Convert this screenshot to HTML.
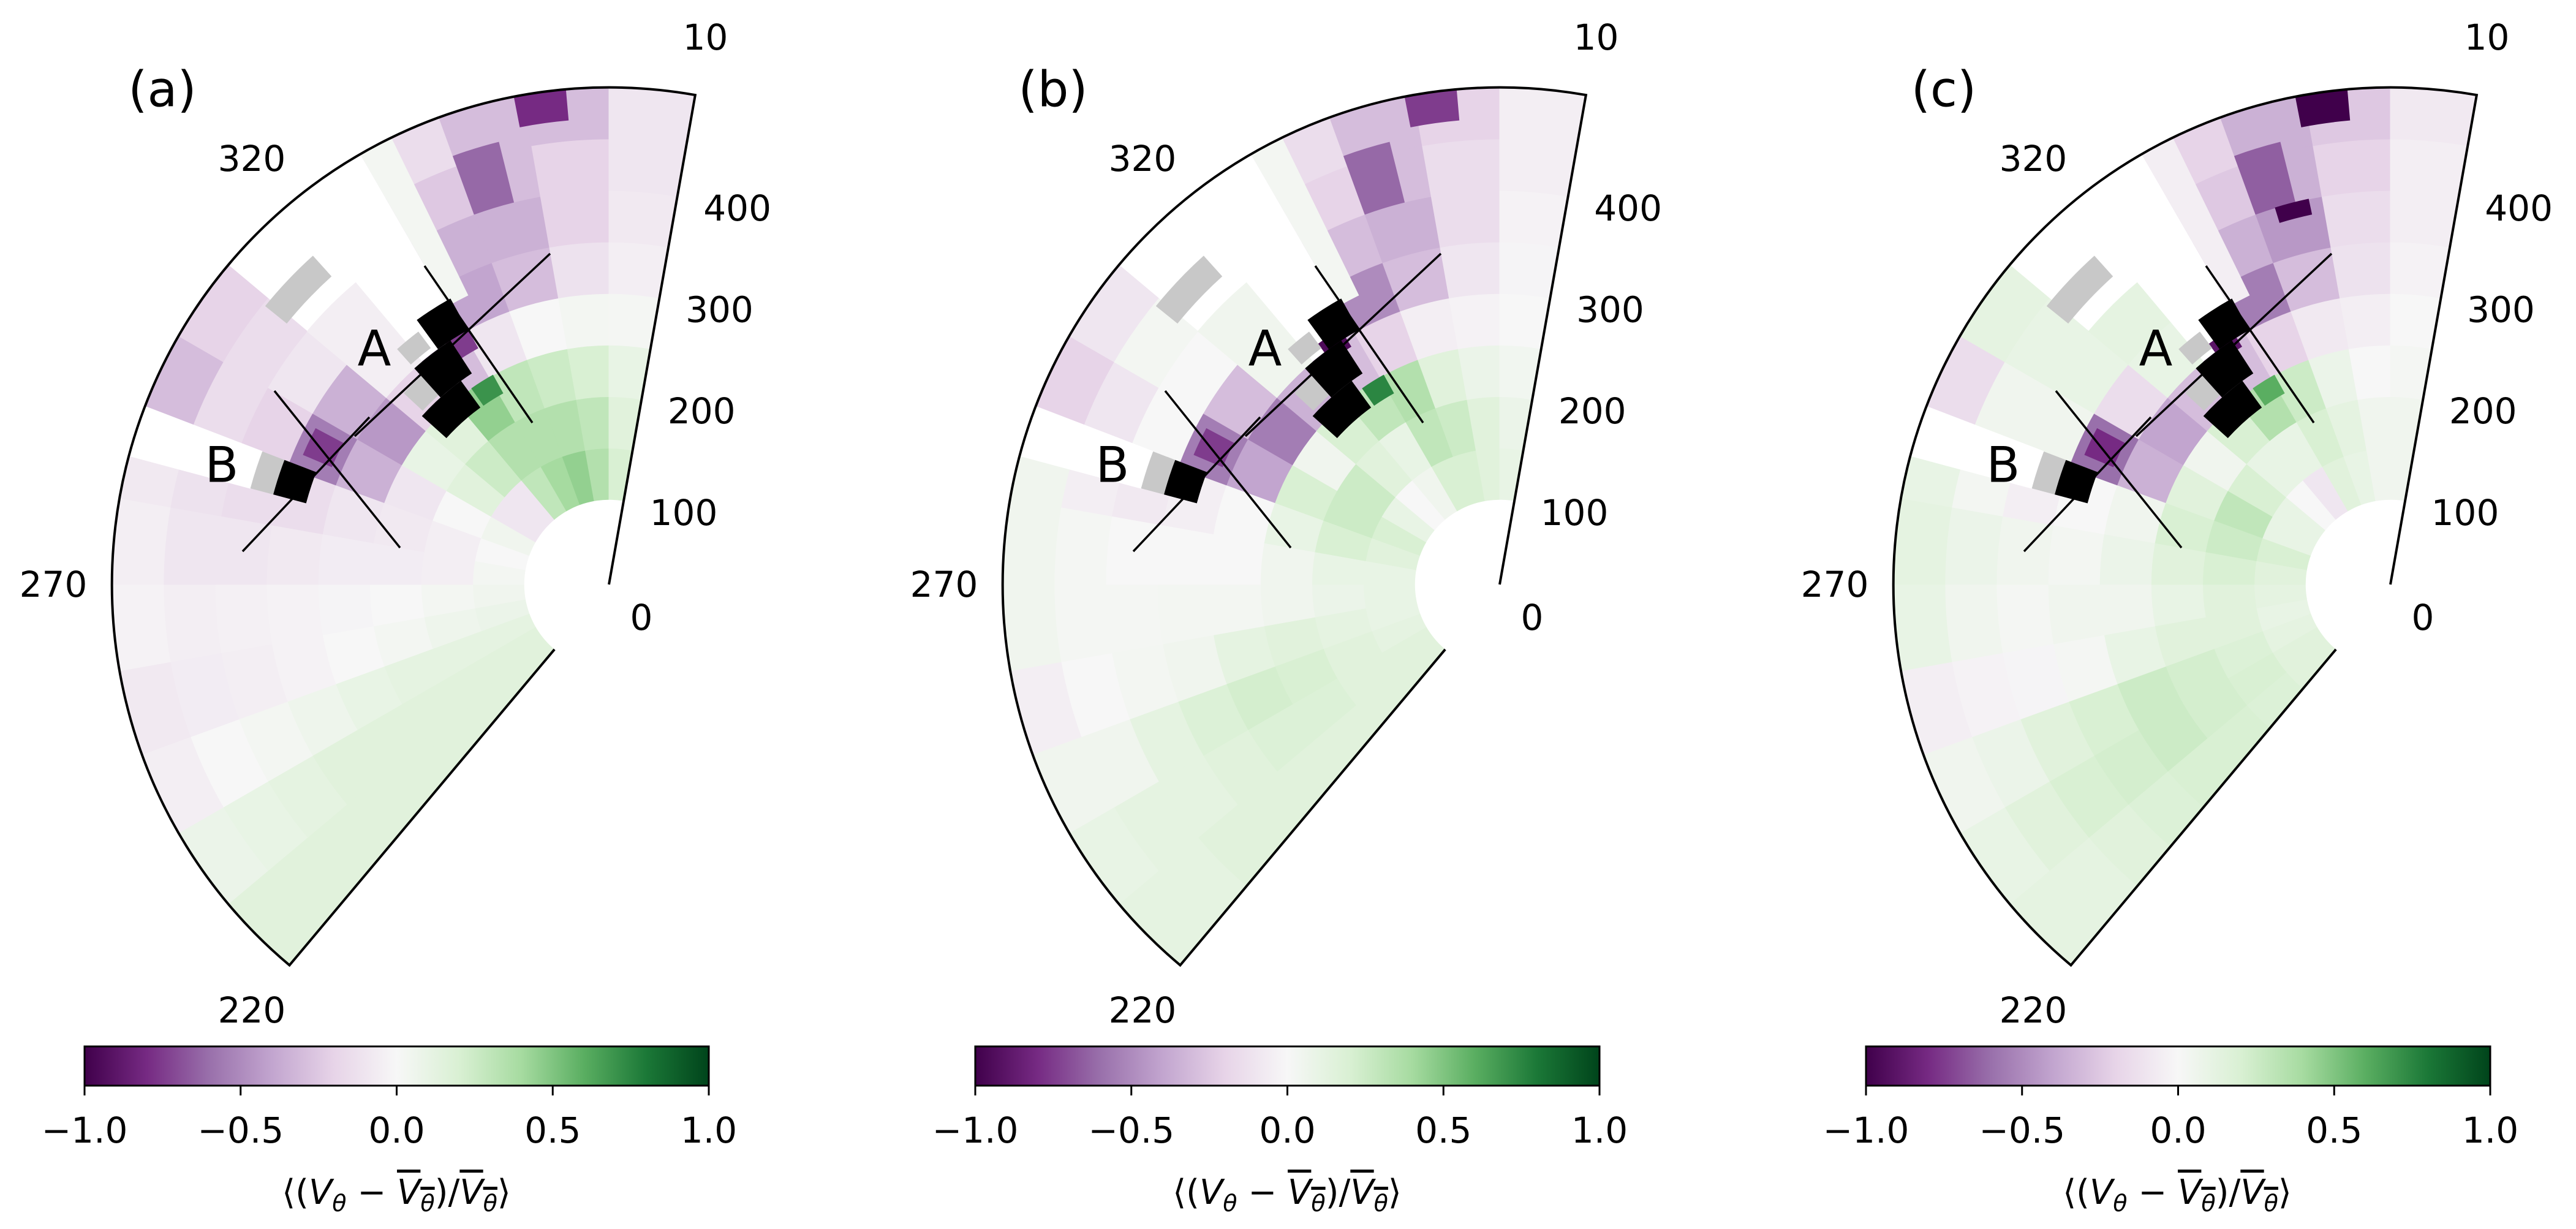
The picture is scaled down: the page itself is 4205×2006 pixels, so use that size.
<!DOCTYPE html>
<html><head><meta charset="utf-8">
<style>
html,body{margin:0;padding:0;background:#fff;}
#wrap{position:relative;width:4205px;height:2006px;overflow:hidden;font-family:"DejaVu Sans","Liberation Sans",sans-serif;}
svg{position:absolute;left:0;top:0;}
.cblabel{position:absolute;top:1912px;width:700px;text-align:center;font-size:56px;line-height:70px;color:#000;white-space:nowrap;}
.ov{text-decoration:overline;}
sub{font-size:38px;}
</style></head>
<body>
<div id="wrap">
<svg id="fig" width="4205" height="2006" viewBox="0 0 4205 2006" xmlns="http://www.w3.org/2000/svg">
<defs>
<linearGradient id="prgn" x1="0" x2="1" y1="0" y2="0">
<stop offset="0" stop-color="#40004b"/><stop offset="0.1" stop-color="#762a83"/><stop offset="0.2" stop-color="#9970ab"/><stop offset="0.3" stop-color="#c2a5cf"/><stop offset="0.4" stop-color="#e7d4e8"/><stop offset="0.5" stop-color="#f7f7f7"/><stop offset="0.6" stop-color="#d9f0d3"/><stop offset="0.7" stop-color="#a6dba0"/><stop offset="0.8" stop-color="#5aae61"/><stop offset="0.9" stop-color="#1b7837"/><stop offset="1" stop-color="#00441b"/>
</linearGradient>
</defs>
</svg>
<div class="cblabel" style="left:297px">⟨(<i>V</i><sub><i>θ</i></sub> − <span class="ov"><i>V</i><sub><i>θ</i></sub></span>)/<span class="ov"><i>V</i><sub><i>θ</i></sub></span>⟩</div>
<div class="cblabel" style="left:1751px">⟨(<i>V</i><sub><i>θ</i></sub> − <span class="ov"><i>V</i><sub><i>θ</i></sub></span>)/<span class="ov"><i>V</i><sub><i>θ</i></sub></span>⟩</div>
<div class="cblabel" style="left:3204px">⟨(<i>V</i><sub><i>θ</i></sub> − <span class="ov"><i>V</i><sub><i>θ</i></sub></span>)/<span class="ov"><i>V</i><sub><i>θ</i></sub></span>⟩</div>
</div>
<script>
// ---- data ----
const thetaEdges = [220,230,240,250,260,270,280,290,300,310,320,330,340,350,360,370];
const rEdges = [100,150,200,250,300,350,400,450,500];
const thetaTicks = [220,270,320,10];
const rTicks = [0,100,200,300,400];
const cbTicks = [-1.0,-0.5,0.0,0.5,1.0];
const cbTickLabels = ["\u22121.0","\u22120.5","0.0","0.5","1.0"];
const panelLabels = ["(a)","(b)","(c)"];

const valuesA = [
 [0.15,0.15,0.15,0.15,0.15,0.15,0.15,0.15],
 [0.15,0.15,0.15,0.15,0.15,0.12,0.1,0.08],
 [0.12,0.12,0.12,0.1,0.06,0.03,0.0,-0.05],
 [0.08,0.06,0.03,0.0,-0.03,-0.05,-0.06,-0.08],
 [0.05,0.03,0.0,-0.02,-0.03,-0.04,-0.05,-0.03],
 [0.03,-0.05,-0.06,-0.06,-0.08,-0.1,-0.1,-0.05],
 [0.0,-0.05,-0.08,-0.1,-0.15,-0.15,-0.12,-0.08],
 [0.05,0.0,-0.1,-0.35,-0.55,-0.2,-0.15,-0.3],
 [-0.1,0.15,0.1,-0.45,-0.35,-0.1,-0.15,-0.2],
 [-0.1,0.25,0.15,-0.2,-0.05,-0.05,null,null],
 [0.3,0.35,0.45,-0.3,null,null,null,null],
 [0.4,0.35,0.3,-0.1,-0.4,-0.35,-0.25,-0.15],
 [0.45,0.35,0.25,0.0,-0.3,-0.35,-0.3,-0.3],
 [0.35,0.3,0.2,0.03,-0.12,-0.2,-0.2,-0.3],
 [0.2,0.15,0.1,0.02,-0.05,-0.08,-0.1,-0.1]
];
const valuesB = [
 [0.15,0.15,0.15,0.15,0.15,0.15,0.12,0.12],
 [0.15,0.15,0.18,0.18,0.15,0.12,0.12,0.1],
 [0.12,0.15,0.2,0.22,0.18,0.12,0.05,0.05],
 [0.1,0.12,0.15,0.12,0.05,0.03,0.0,-0.05],
 [0.1,0.08,0.05,0.03,0.03,0.02,0.02,0.05],
 [0.1,0.1,0.05,0.0,0.0,0.0,0.02,0.05],
 [0.15,0.2,0.1,0.0,-0.05,-0.08,-0.05,0.05],
 [0.2,0.25,0.2,-0.4,-0.55,0.0,-0.1,-0.2],
 [0.1,0.25,0.05,-0.55,-0.3,0.0,0.03,-0.1],
 [0.0,0.15,0.2,-0.35,0.05,0.05,null,null],
 [0.05,0.1,0.3,-0.3,null,null,null,null],
 [0.2,0.3,0.35,-0.2,-0.5,-0.3,-0.2,-0.15],
 [0.2,0.25,0.15,-0.05,-0.3,-0.35,-0.3,-0.3],
 [0.15,0.15,0.08,-0.03,-0.1,-0.15,-0.15,-0.2],
 [0.1,0.08,0.04,0.0,-0.02,-0.03,-0.05,-0.05]
];
const valuesC = [
 [0.15,0.18,0.2,0.2,0.18,0.15,0.12,0.12],
 [0.15,0.2,0.22,0.25,0.22,0.2,0.15,0.1],
 [0.12,0.18,0.22,0.25,0.2,0.15,0.08,0.05],
 [0.1,0.15,0.15,0.1,0.02,-0.02,-0.03,-0.05],
 [0.12,0.15,0.1,0.05,0.05,0.02,0.05,0.1],
 [0.15,0.2,0.15,0.08,0.03,0.05,0.08,0.12],
 [0.2,0.25,0.2,0.05,0.0,-0.05,0.03,0.1],
 [0.1,0.3,0.15,-0.35,-0.6,0.05,0.05,-0.15],
 [0.1,0.2,0.05,-0.4,-0.15,0.1,0.1,0.12],
 [0.0,0.1,0.2,-0.3,0.1,0.12,null,null],
 [-0.1,0.1,0.35,-0.3,null,null,null,null],
 [0.15,0.2,0.25,-0.2,-0.55,-0.35,-0.25,-0.2],
 [0.1,0.12,0.08,-0.08,-0.3,-0.45,-0.35,-0.35],
 [0.05,0.05,0.0,-0.05,-0.12,-0.15,-0.2,-0.25],
 [0.05,0.05,0.02,0.0,-0.03,-0.05,-0.05,-0.08]
];
// finer cells: [az0, az1, r0, r1, value(null = no data)]
const cellsA = [[285,291,378,500,null],[330,334,330,500,0.03],[340,346,400,460,-0.62],[349,355,470,500,-0.8],[325,331,230,250,0.7],[293,298,310,340,-0.75],[326,331,280,300,-0.75]];
const cellsB = [[285,291,378,500,null],[330,334,330,500,0.03],[340,346,400,460,-0.62],[349,355,470,500,-0.75],[323,328,290,310,-0.95],[325,331,230,250,0.75],[293,298,310,340,-0.75]];
const cellsC = [[285,291,378,500,null],[330,334,330,500,-0.05],[340,346,400,460,-0.65],[343,348,385,400,-1.0],[349,355,470,500,-1.0],[323,328,290,310,-0.9],[325,331,230,250,0.6],[293,298,310,340,-0.8]];
// masked cells shared by all panels: [az0, az1, r0, r1]
const blackCells = [[324,331,300,335],[318,327,262,300],[312,324,230,262],[285,291,322,355]];
const grayCells = [[309,318,420,447],[318,323,305,325],[313,318,265,290],[285,291,355,378]];

// ---- geometry ----
const centersX = [994,2448,3902];
const CY = 954;
const cbLeft = [138,1592,3046], CBW = 1019, CBY = 1708, CBH = 64;
function rpx(r){ return 1.6825*r - 30; }
function pt(cx, az, R){ const m=(90-az)*Math.PI/180; return [cx+R*Math.cos(m), CY-R*Math.sin(m)]; }
const STOPS=["#40004b","#762a83","#9970ab","#c2a5cf","#e7d4e8","#f7f7f7","#d9f0d3","#a6dba0","#5aae61","#1b7837","#00441b"];
function hex(h){return [parseInt(h.substr(1,2),16),parseInt(h.substr(3,2),16),parseInt(h.substr(5,2),16)];}
function cmap(v){
  v=Math.max(-1,Math.min(1,v)); const t=(v+1)/2*10; const i=Math.min(9,Math.floor(t)); const f=t-i;
  const a=hex(STOPS[i]), b=hex(STOPS[i+1]);
  return "rgb("+a.map((x,k)=>Math.round(x+(b[k]-x)*f)).join(",")+")";
}
function sector(cx,az0,az1,r0,r1){
  const R0=rpx(r0), R1=rpx(r1);
  const p1=pt(cx,az0,R0), p2=pt(cx,az0,R1), p3=pt(cx,az1,R1), p4=pt(cx,az1,R0);
  return "M"+p1+"L"+p2+"A"+R1+","+R1+" 0 0 1 "+p3+"L"+p4+"A"+R0+","+R0+" 0 0 0 "+p1+"Z";
}
const svg=document.getElementById('fig');
const NS="http://www.w3.org/2000/svg";
function mk(tag, attrs, parent){ const e=document.createElementNS(NS,tag); for(const k in attrs) e.setAttribute(k,attrs[k]); (parent||svg).appendChild(e); return e; }

const panelValues=[valuesA,valuesB,valuesC];
const panelCells=[cellsA,cellsB,cellsC];
const annotLines=[[-598,-54,-391,-273],[-415,-242,-96,-540],[-301,-520,-125,-264],[-546,-316,-341,-60]];

for(let p=0;p<3;p++){
  const cx=centersX[p];
  const g=mk('g',{});
  
  
  const vals=panelValues[p];
  for(let i=0;i<thetaEdges.length-1;i++){
    for(let j=0;j<rEdges.length-1;j++){
      const v=vals[i][j]; if(v===null) continue;
      const c=mk('path',{d:sector(cx,thetaEdges[i],thetaEdges[i+1],rEdges[j],rEdges[j+1]),fill:cmap(v),stroke:cmap(v),'stroke-width':1},g);
      
      
    }
  }
  for(const c of panelCells[p]){
    const col = c[4]===null ? "#ffffff" : cmap(c[4]);
    const e=mk('path',{d:sector(cx,c[0],c[1],c[2],c[3]),fill:col,stroke:col,'stroke-width':1},g);
    
    
  }
  for(const c of grayCells){
    const e=mk('path',{d:sector(cx,c[0],c[1],c[2],c[3]),fill:"#c8c8c8"},g);
    
    
  }
  for(const c of blackCells){
    const e=mk('path',{d:sector(cx,c[0],c[1],c[2],c[3]),fill:"#000"},g);
    
    
  }
  const h=mk('path',{d:sector(cx,219,371,10,rEdges[0]),fill:"#fff"},g);
  
  
  const Ro=rpx(500), Ri=rpx(100);
  const o1=pt(cx,220,Ri), o2=pt(cx,220,Ro), o3=pt(cx,370,Ro);
  const ol=mk('path',{d:"M"+o1+"L"+o2+"A"+Ro+","+Ro+" 0 0 1 "+o3+"L"+cx+","+CY,fill:"none",stroke:"#000","stroke-width":4},g);
  
  
  for(const l of annotLines){
    const e=mk('line',{x1:cx+l[0],y1:CY+l[1],x2:cx+l[2],y2:CY+l[3],stroke:"#000","stroke-width":3.5},g);
    
    
  }
  const tA=mk('text',{x:cx-383,y:CY-385,'font-size':80,'text-anchor':'middle','dominant-baseline':'central'},g); tA.textContent="A";
  
  
  const tB=mk('text',{x:cx-632,y:CY-195,'font-size':80,'text-anchor':'middle','dominant-baseline':'central'},g); tB.textContent="B";
  
  
  const pl=mk('text',{x:cx-729,y:CY-808,'font-size':80,'text-anchor':'middle','dominant-baseline':'central'},g); pl.textContent=panelLabels[p];
  
  
  for(const t of thetaTicks){
    const q=pt(cx,t<100?t+360:t,907);
    const e=mk('text',{x:q[0],y:q[1],'font-size':58,'text-anchor':'middle','dominant-baseline':'central'},g); e.textContent=String(t);
    
    
  }
  for(const r of rTicks){
    let q;
    if(r===0){ q=[cx+53,CY+54]; } else { const e0=pt(cx,370,rpx(r)); q=[e0[0]+98,e0[1]+19]; }
    const e=mk('text',{x:q[0],y:q[1],'font-size':58,'text-anchor':'middle','dominant-baseline':'central'},g); e.textContent=String(r);
    
    
  }
  const L=cbLeft[p];
  const cb=mk('rect',{x:L,y:CBY,width:CBW,height:CBH,fill:"url(#prgn)",stroke:"#000","stroke-width":3});
  
  
  cbTicks.forEach((v,k)=>{
    const x=L+(v+1)/2*CBW;
    const tk=mk('line',{x1:x,y1:CBY+CBH,x2:x,y2:CBY+CBH+16,stroke:"#000","stroke-width":3});
    
    
    const tl=mk('text',{x:x,y:1845,'font-size':58,'text-anchor':'middle','dominant-baseline':'central'}); tl.textContent=cbTickLabels[k];
    
    
  });
}
</script>
</body></html>
